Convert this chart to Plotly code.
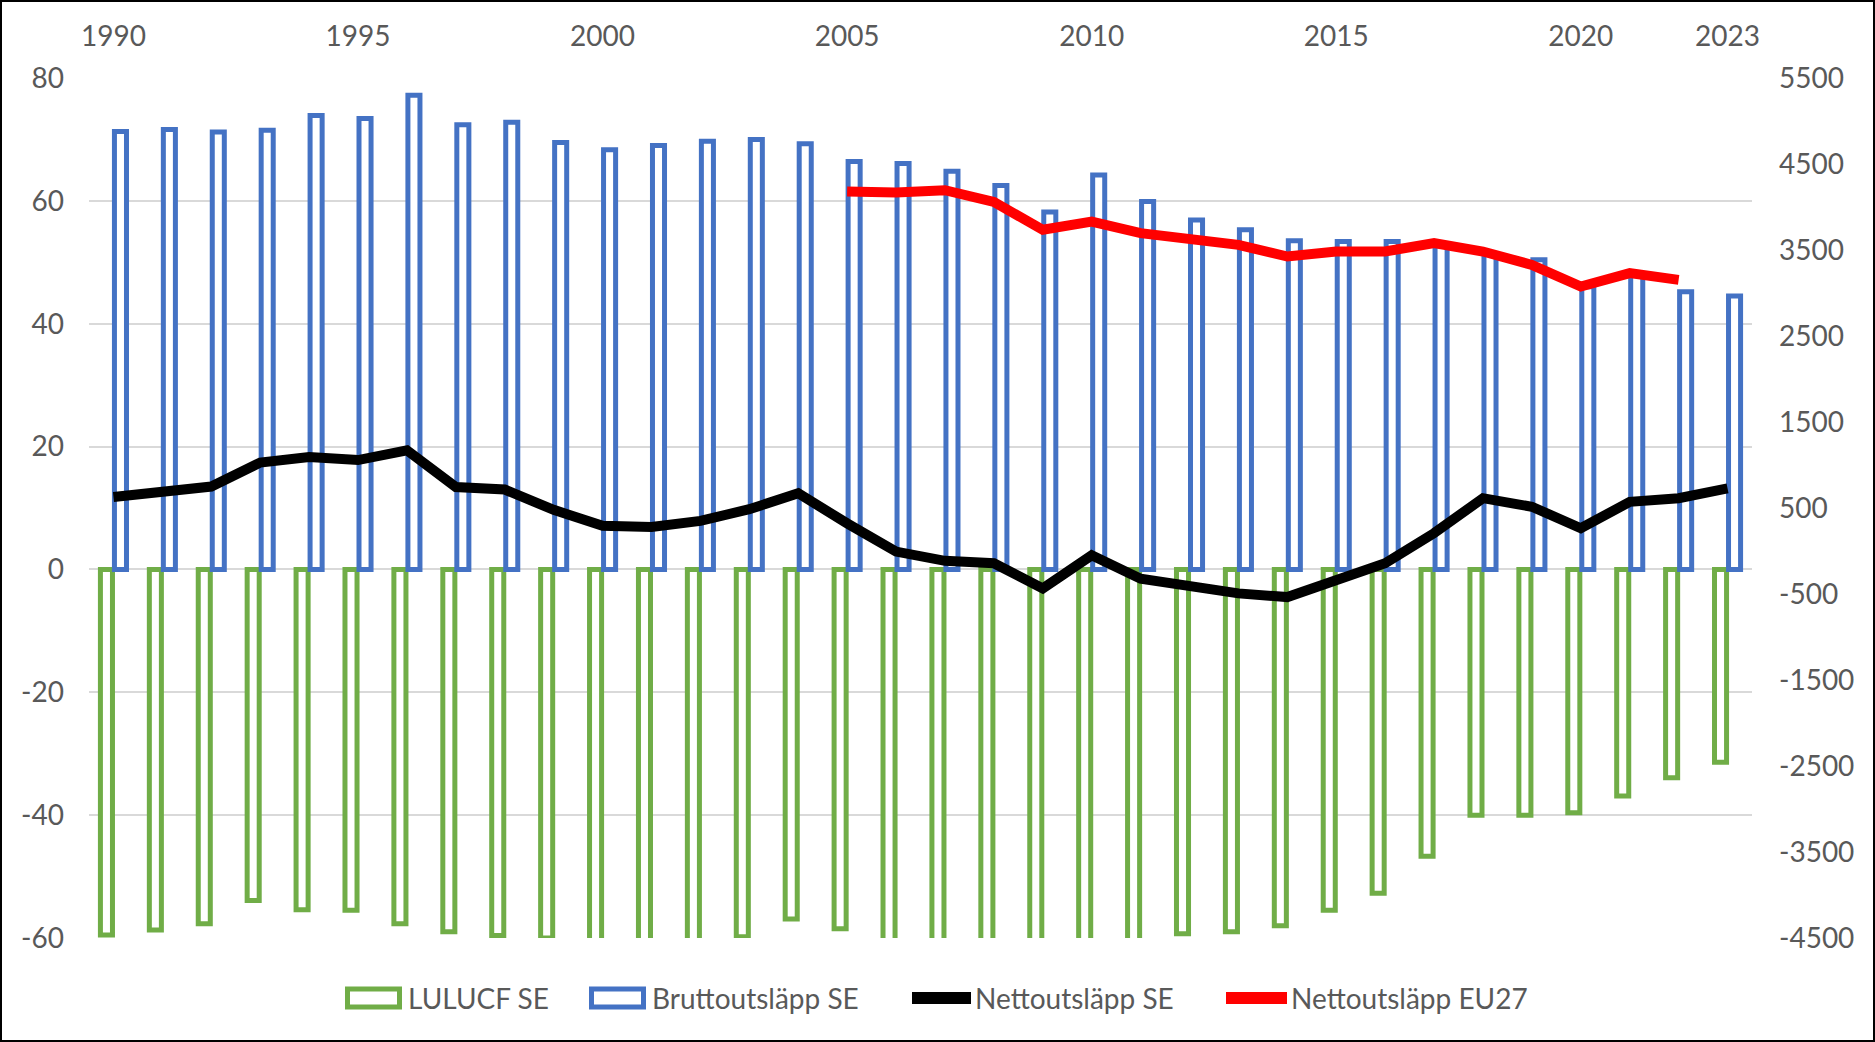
import plotly.graph_objects as go

years = list(range(1990, 2024))
lulucf_se = [-59.5, -58.7, -57.7, -53.9, -55.4, -55.5, -57.7, -59.0, -59.6, -60.0,
             -61.2, -62.1, -61.8, -59.8, -56.9, -58.5, -63.2, -63.4, -61.5, -61.3,
             -61.9, -61.4, -59.3, -59.0, -58.0, -55.5, -52.7, -46.7, -40.0, -40.0,
             -39.6, -36.9, -33.9, -31.4]
brutto_se = [71.3, 71.6, 71.2, 71.5, 73.9, 73.4, 77.2, 72.4, 72.8, 69.5,
             68.3, 69.0, 69.7, 70.0, 69.3, 66.4, 66.1, 64.8, 62.5, 58.2,
             64.2, 59.9, 56.9, 55.3, 53.5, 53.4, 53.4, 52.7, 51.4, 50.4,
             46.0, 48.0, 45.2, 44.5]
netto_se = [11.8, 12.8, 13.5, 17.4, 18.3, 17.8, 19.4, 13.4, 13.0, 9.7,
            7.1, 6.9, 7.9, 9.8, 12.4, 7.5, 2.9, 1.4, 1.0, -3.1,
            2.3, -1.5, -2.6, -3.9, -4.5, -1.7, 1.0, 5.9, 11.6, 10.2,
            6.7, 11.0, 11.6, 13.2]
eu_years = list(range(2005, 2023))
netto_eu27 = [4180, 4169, 4195, 4058, 3735, 3831, 3696, 3638, 3560, 3424,
              3482, 3482, 3580, 3482, 3327, 3075, 3231, 3153]

x_tickvals = [1990, 1995, 2000, 2005, 2010, 2015, 2020, 2023]
y_left_ticks = [-60, -40, -20, 0, 20, 40, 60, 80]
y_right_ticks = [-4500, -3500, -2500, -1500, -500, 500, 1500, 2500, 3500, 4500, 5500]

series_names = ["LULUCF SE", "Bruttoutsläpp SE", "Nettoutsläpp SE", "Nettoutsläpp EU27"]
series_colors = ["#70AD47", "#4472C4", "#000000", "#FF0000"]

W, H = 1875, 1042
ML, MR, MT, MB = 89, 123, 78, 104
PW, PH = W - ML - MR, H - MT - MB

FONT = "Lato"
TXT = "#595959"


def px_x(px):
    return (px - ML) / PW


def px_y(py):
    return (MT + PH - py) / PH


fig = go.Figure()
fig.add_trace(go.Bar(x=years, y=lulucf_se, name=series_names[0],
                     marker=dict(color="white", line=dict(color=series_colors[0], width=5))))
fig.add_trace(go.Bar(x=years, y=brutto_se, name=series_names[1],
                     marker=dict(color="white", line=dict(color=series_colors[1], width=5))))
fig.add_trace(go.Scatter(x=years, y=netto_se, name=series_names[2], mode="lines",
                         line=dict(color=series_colors[2], width=10)))
fig.add_trace(go.Scatter(x=eu_years, y=netto_eu27, name=series_names[3], mode="lines",
                         line=dict(color=series_colors[3], width=10), yaxis="y2"))

# custom legend (swatch geometry in pixels)
legend_items = [
    ("rect", 345, 402, 406),
    ("rect", 589, 646, 650),
    ("line", 912, 971, 973),
    ("line", 1226, 1287, 1289),
]
LEG_Y = 998
shapes = []
annotations = []
for (kind, sx0, sx1, tx), name, col in zip(legend_items, series_names, series_colors):
    if kind == "rect":
        shapes.append(dict(type="rect", xref="paper", yref="paper",
                           x0=px_x(sx0 + 2.5), x1=px_x(sx1 - 2.5),
                           y0=px_y(LEG_Y + 9), y1=px_y(LEG_Y - 9),
                           line=dict(color=col, width=5), fillcolor="white"))
    else:
        shapes.append(dict(type="line", xref="paper", yref="paper",
                           x0=px_x(sx0), x1=px_x(sx1), y0=px_y(LEG_Y), y1=px_y(LEG_Y),
                           line=dict(color=col, width=12)))
    annotations.append(dict(text=name, xref="paper", yref="paper", x=px_x(tx), y=px_y(LEG_Y),
                            xanchor="left", yanchor="middle", showarrow=False,
                            font=dict(size=28, color=TXT, family=FONT)))

shapes.append(dict(type="rect", xref="paper", yref="paper",
                   x0=px_x(1), x1=px_x(W - 1), y0=px_y(H - 1), y1=px_y(1),
                   line=dict(color="black", width=2), fillcolor="rgba(0,0,0,0)", layer="above"))

fig.update_layout(
    width=W, height=H,
    margin=dict(l=ML, r=MR, t=MT, b=MB),
    paper_bgcolor="white", plot_bgcolor="white",
    font=dict(family=FONT, size=28, color=TXT),
    showlegend=False,
    barmode="group", bargap=0.427, bargroupgap=0.14,
    xaxis=dict(range=[1989.5, 2023.5], side="top", tickvals=x_tickvals,
               ticktext=[str(v) for v in x_tickvals],
               showgrid=False, zeroline=False, showline=False, ticks="",
               ticklabelstandoff=25, tickfont=dict(size=28, color=TXT, family=FONT)),
    yaxis=dict(range=[-60, 80], tickvals=y_left_ticks,
               ticktext=[str(v) for v in y_left_ticks], showgrid=True,
               gridcolor="#D9D9D9", gridwidth=2, zeroline=False, showline=False,
               ticks="", ticklabelstandoff=24,
               tickfont=dict(size=28, color=TXT, family=FONT)),
    yaxis2=dict(range=[-4500, 5500], tickvals=y_right_ticks,
                ticktext=[str(v) for v in y_right_ticks], overlaying="y", side="right",
                showgrid=False, zeroline=False, showline=False, ticks="",
                ticklabelstandoff=26, tickfont=dict(size=28, color=TXT, family=FONT)),
    shapes=shapes,
    annotations=annotations,
)

fig.write_html("out.html", config={"displayModeBar": False})
with open("out.html", "r", encoding="utf-8") as f:
    html = f.read()
html = html.replace("<body>", "<body style=\"margin:0;padding:0;overflow:hidden\">", 1)
with open("out.html", "w", encoding="utf-8") as f:
    f.write(html)
